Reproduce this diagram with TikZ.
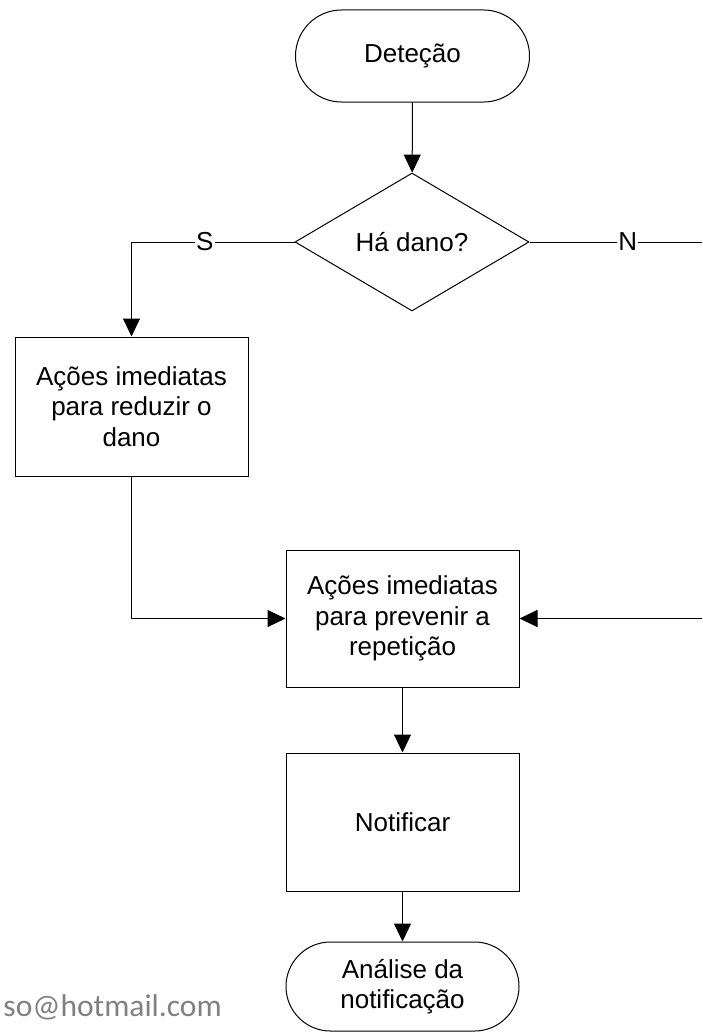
\documentclass[tikz,border=0pt]{standalone}
\usepackage{fontspec}
\setmainfont{Liberation Sans}
\newfontfamily\mailfont{Carlito}
\usetikzlibrary{shapes.geometric,arrows.meta}
\begin{document}
\begin{tikzpicture}[x=1pt,y=-1pt,
  every node/.style={font=\fontsize{26}{30.5}\selectfont},
  shp/.style={draw, line width=1pt, align=center, inner sep=2pt},
  procbox/.style={shp, rectangle, minimum width=233pt},
  termbox/.style={shp, rectangle, minimum width=234pt},
  decbox/.style={shp, diamond, aspect=1.7, minimum width=234pt, minimum height=138pt},
  conn/.style={line width=1pt},
  arr/.style={conn, -{Triangle[length=18pt,width=17pt]}},
  lbl/.style={fill=white, inner sep=1pt}]
\useasboundingbox (0,0) rectangle (702,1033);
\node[termbox, minimum height=92pt, rounded corners=46pt] (det) at (412.5,56) {Deteção};
\node[decbox] (dano) at (412,242) {Há dano?};
\node[procbox, minimum height=139pt] (b1) at (131.5,406.5) {Ações imediatas\\para reduzir o\\dano};
\node[procbox, minimum height=137pt] (b2) at (402.5,618.5) {Ações imediatas\\para prevenir a\\repetição};
\node[procbox, minimum height=138pt] (b3) at (402.5,822) {Notificar};
\node[termbox, minimum width=233pt, minimum height=89pt, rounded corners=44.5pt] (ana) at (402.5,986.5) {Análise da\\notificação};
\node[anchor=base east, inner sep=0pt, font=\mailfont\fontsize{31.5}{36}\selectfont, text=black!50] (mail) at (222,1016) {so@hotmail.com};
\coordinate (sL) at (131.5,242);
\coordinate (nR) at (702,242);
\coordinate (rR) at (702,618.5);
\coordinate (cB) at (131.5,618.5);
\draw[arr] (det) -- (dano);
\draw[arr] (dano.west) -- node[lbl, pos=0.55] {S} (sL) -- (b1.north);
\draw[conn] (dano.east) -- node[lbl, pos=0.57] {N} (nR);
\draw[arr] (b1.south) -- (cB) -- (b2.west);
\draw[arr] (rR) -- (b2.east);
\draw[arr] (b2) -- (b3);
\draw[arr] (b3) -- (ana);
\end{tikzpicture}
\end{document}
